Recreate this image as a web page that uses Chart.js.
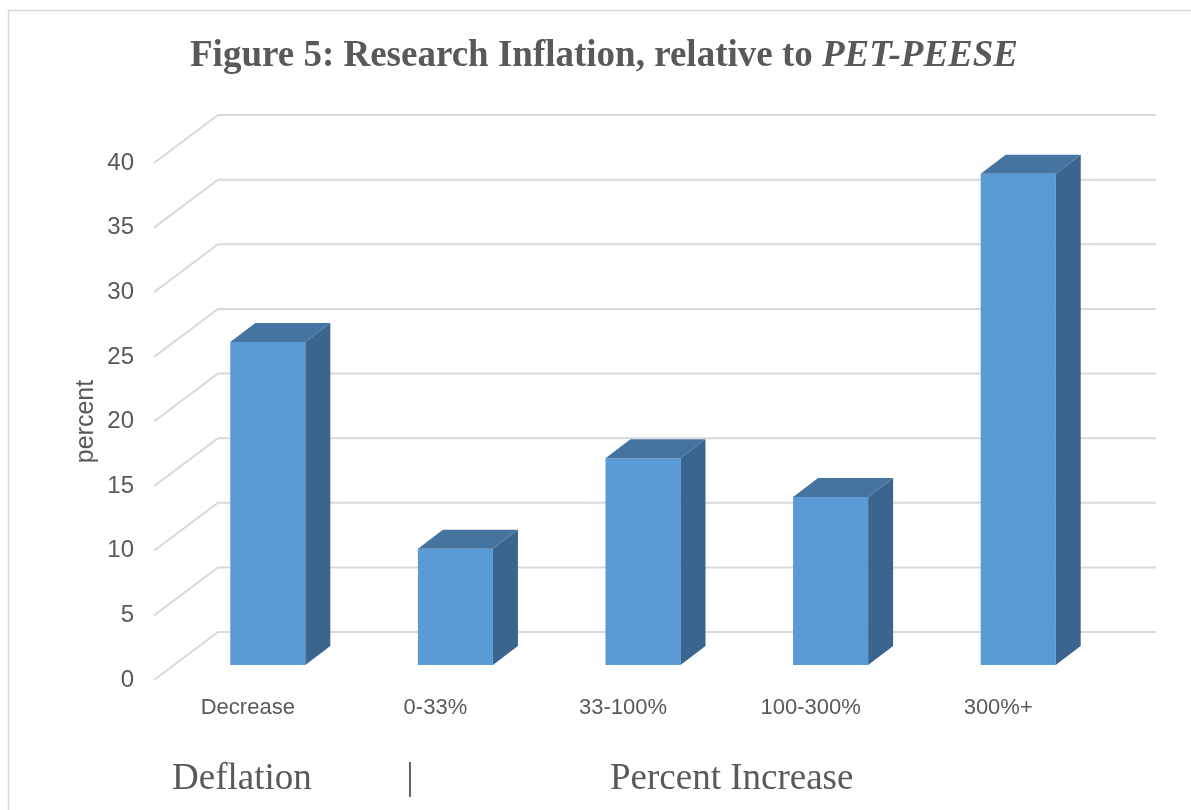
<!DOCTYPE html>
<html>
<head>
<meta charset="utf-8">
<title>Figure 5: Research Inflation, relative to PET-PEESE</title>
<script src="https://cdn.jsdelivr.net/npm/chart.js@4/dist/chart.umd.min.js"></script>
<style>
    html, body { margin: 0; padding: 0; background: #ffffff; }
    #chart { display: block; }
</style>
</head>
<body>
<canvas id="chart" width="1191" height="810"></canvas>
<script>
'use strict';

// Chart data
const categories = ['Decrease', '0-33%', '33-100%', '100-300%', '300%+'];
const percentValues = [25, 9, 16, 13, 38];
const yMin = 0;
const yMax = 40;
const yStep = 5;

// Text
const titleMain = 'Figure 5: Research Inflation, relative to ';
const titleItalic = 'PET-PEESE';
const groupLabels = ['Deflation', '|', 'Percent Increase'];

// Colours
const TEXT_COLOR = '#595959';
const GRID_COLOR = '#d9d9d9';
const BAR_FRONT = '#5b9bd5';
const BAR_TOP = '#4574a1';
const BAR_SIDE = '#3a658e';

// 3D offsets (pixels)
const WALL_DX = 64, WALL_DY = -48;
const BAR_SHIFT_DX = 20, BAR_SHIFT_DY = -15;
const BAR_DEPTH_DX = 25, BAR_DEPTH_DY = -19;

/**
 * Frame, title and group labels
 */
const decorPlugin = {
    id: 'decor',
    beforeDraw(chart) {
        const ctx = chart.ctx;
        ctx.save();
        ctx.fillStyle = '#ffffff';
        ctx.fillRect(0, 0, chart.width, chart.height);
        ctx.strokeStyle = GRID_COLOR;
        ctx.lineWidth = 1.5;
        ctx.strokeRect(8.5, 10.5, chart.width + 20, chart.height + 20);
        ctx.restore();
    },
    afterDraw(chart) {
        const ctx = chart.ctx;
        ctx.save();
        ctx.fillStyle = TEXT_COLOR;
        ctx.textBaseline = 'alphabetic';

        // Title, mixed bold / bold italic
        const fMain = 'bold 37px "Liberation Serif", "Times New Roman", serif';
        const fItal = 'italic bold 37px "Liberation Serif", "Times New Roman", serif';
        ctx.font = fMain;
        const w1 = ctx.measureText(titleMain).width;
        ctx.font = fItal;
        const w2 = ctx.measureText(titleItalic).width;
        const startX = 604 - (w1 + w2) / 2;
        ctx.textAlign = 'left';
        ctx.font = fMain;
        ctx.fillText(titleMain, startX, 66);
        ctx.font = fItal;
        ctx.fillText(titleItalic, startX + w1, 66);

        // Group labels under the axis
        ctx.font = '37px "Liberation Serif", "Times New Roman", serif';
        ctx.fillText(groupLabels[0], 172, 789);
        ctx.textAlign = 'center';
        ctx.fillText(groupLabels[1], 410, 789);
        ctx.textAlign = 'left';
        ctx.fillText(groupLabels[2], 610, 789);
        ctx.restore();
    }
};

/**
 * Draws the perspective grid and the top / side faces of the bars
 */
const threeDPlugin = {
    id: 'threeD',
    beforeDatasetsDraw(chart) {
        const ctx = chart.ctx;
        const area = chart.chartArea;
        const yScale = chart.scales.y;

        ctx.save();
        ctx.strokeStyle = GRID_COLOR;
        ctx.lineWidth = 2;
        yScale.ticks.forEach(t => {
            const y = yScale.getPixelForValue(t.value);
            ctx.beginPath();
            ctx.moveTo(area.left, y);
            ctx.lineTo(area.left + WALL_DX, y + WALL_DY);
            ctx.lineTo(area.right + WALL_DX, y + WALL_DY);
            ctx.stroke();
        });
        ctx.restore();

        // Shift the bars into the depth of the plot
        ctx.save();
        ctx.translate(BAR_SHIFT_DX, BAR_SHIFT_DY);
    },
    afterDatasetsDraw(chart) {
        const ctx = chart.ctx;
        const meta = chart.getDatasetMeta(0);

        meta.data.forEach(bar => {
            const p = bar.getProps(['x', 'y', 'base', 'width'], true);
            const l = p.x - p.width / 2;
            const r = p.x + p.width / 2;
            const top = Math.min(p.y, p.base);
            const bottom = Math.max(p.y, p.base);

            // Side face
            ctx.fillStyle = BAR_SIDE;
            ctx.beginPath();
            ctx.moveTo(r, top);
            ctx.lineTo(r + BAR_DEPTH_DX, top + BAR_DEPTH_DY);
            ctx.lineTo(r + BAR_DEPTH_DX, bottom + BAR_DEPTH_DY);
            ctx.lineTo(r, bottom);
            ctx.closePath();
            ctx.fill();

            // Top face
            ctx.fillStyle = BAR_TOP;
            ctx.beginPath();
            ctx.moveTo(l, top);
            ctx.lineTo(l + BAR_DEPTH_DX, top + BAR_DEPTH_DY);
            ctx.lineTo(r + BAR_DEPTH_DX, top + BAR_DEPTH_DY);
            ctx.lineTo(r, top);
            ctx.closePath();
            ctx.fill();
        });

        ctx.restore();
    }
};

const chart = new Chart(document.getElementById('chart'), {
    type: 'bar',
    data: {
        labels: categories,
        datasets: [{
            label: 'percent',
            data: percentValues,
            backgroundColor: BAR_FRONT,
            borderWidth: 0,
            barPercentage: 0.4,
            categoryPercentage: 1.0,
            clip: false
        }]
    },
    options: {
        responsive: false,
        animation: false,
        devicePixelRatio: 1,
        layout: {
            padding: { left: 0, right: 99, top: 163, bottom: 0 }
        },
        plugins: {
            legend: { display: false },
            title: { display: false },
            tooltip: { enabled: false }
        },
        scales: {
            x: {
                grid: { display: false, drawTicks: false },
                border: { display: false },
                ticks: {
                    color: TEXT_COLOR,
                    padding: 15,
                    font: { family: '"Liberation Sans", Arial, sans-serif', size: 22 }
                },
                afterFit(scale) { scale.height = 130; }
            },
            y: {
                min: yMin,
                max: yMax,
                grid: { display: false, drawTicks: false },
                border: { display: false },
                ticks: {
                    stepSize: yStep,
                    color: TEXT_COLOR,
                    padding: 20,
                    font: { family: '"Liberation Sans", Arial, sans-serif', size: 24 }
                },
                title: {
                    display: true,
                    text: 'percent',
                    color: TEXT_COLOR,
                    padding: { top: 71, bottom: 0 },
                    font: { family: '"Liberation Sans", Arial, sans-serif', size: 25 }
                },
                afterFit(scale) { scale.width = 154; }
            }
        }
    },
    plugins: [decorPlugin, threeDPlugin]
});
</script>
</body>
</html>
